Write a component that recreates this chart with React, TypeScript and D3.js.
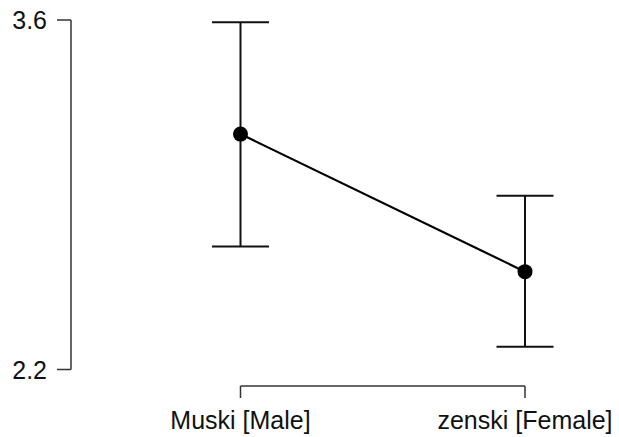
import React from "react";
import * as d3 from "d3";

const categories = ["Muski [Male]", "zenski [Female]"];
const means = [3.143, 2.592];
const upper = [3.591, 2.896];
const lower = [2.693, 2.291];
const yTicks = [2.2, 3.6];

const W = 619;
const H = 437;

export default function App() {
  const x = d3.scalePoint<string>().domain(categories).range([240.5, 525]);
  const y = d3.scaleLinear().domain([2.2, 3.6]).range([369.5, 20]);
  const line = d3
    .line<number>()
    .x((_, i) => x(categories[i])!)
    .y((d) => y(d));
  const axisX = 71;
  const bracketY = 386;
  const capHalf = 28.5;
  const font = "Liberation Sans, Arial, sans-serif";
  return (
    <svg
      width={W}
      height={H}
      style={{ position: "absolute", left: 0, top: 0, background: "#fff" }}
    >
      {/* y axis */}
      <line x1={axisX} x2={axisX} y1={y(3.6)} y2={y(2.2)} stroke="#333" strokeWidth={1.5} />
      {yTicks.map((t) => (
        <g key={t}>
          <line x1={57} x2={axisX} y1={y(t)} y2={y(t)} stroke="#333" strokeWidth={1.5} />
          <text
            x={47}
            y={y(t)}
            dy="0.36em"
            textAnchor="end"
            fontFamily={font}
            fontSize={25}
            fill="#111"
          >
            {t.toFixed(1)}
          </text>
        </g>
      ))}
      {/* x bracket */}
      <line
        x1={x(categories[0])}
        x2={x(categories[1])}
        y1={bracketY}
        y2={bracketY}
        stroke="#333"
        strokeWidth={1.5}
      />
      {categories.map((c) => (
        <g key={c}>
          <line x1={x(c)} x2={x(c)} y1={bracketY} y2={398} stroke="#333" strokeWidth={1.5} />
          <text
            x={x(c)}
            y={429}
            textAnchor="middle"
            fontFamily={font}
            fontSize={25}
            fill="#111"
          >
            {c}
          </text>
        </g>
      ))}
      {/* error bars */}
      {categories.map((c, i) => (
        <g key={c + "eb"} stroke="#111" strokeWidth={2}>
          <line x1={x(c)} x2={x(c)} y1={y(upper[i])} y2={y(lower[i])} />
          <line x1={x(c)! - capHalf} x2={x(c)! + capHalf} y1={y(upper[i])} y2={y(upper[i])} />
          <line x1={x(c)! - capHalf} x2={x(c)! + capHalf} y1={y(lower[i])} y2={y(lower[i])} />
        </g>
      ))}
      <path d={line(means) || ""} fill="none" stroke="#000" strokeWidth={2.2} />
      {means.map((m, i) => (
        <circle key={i} cx={x(categories[i])} cy={y(m)} r={7.5} fill="#000" />
      ))}
    </svg>
  );
}
